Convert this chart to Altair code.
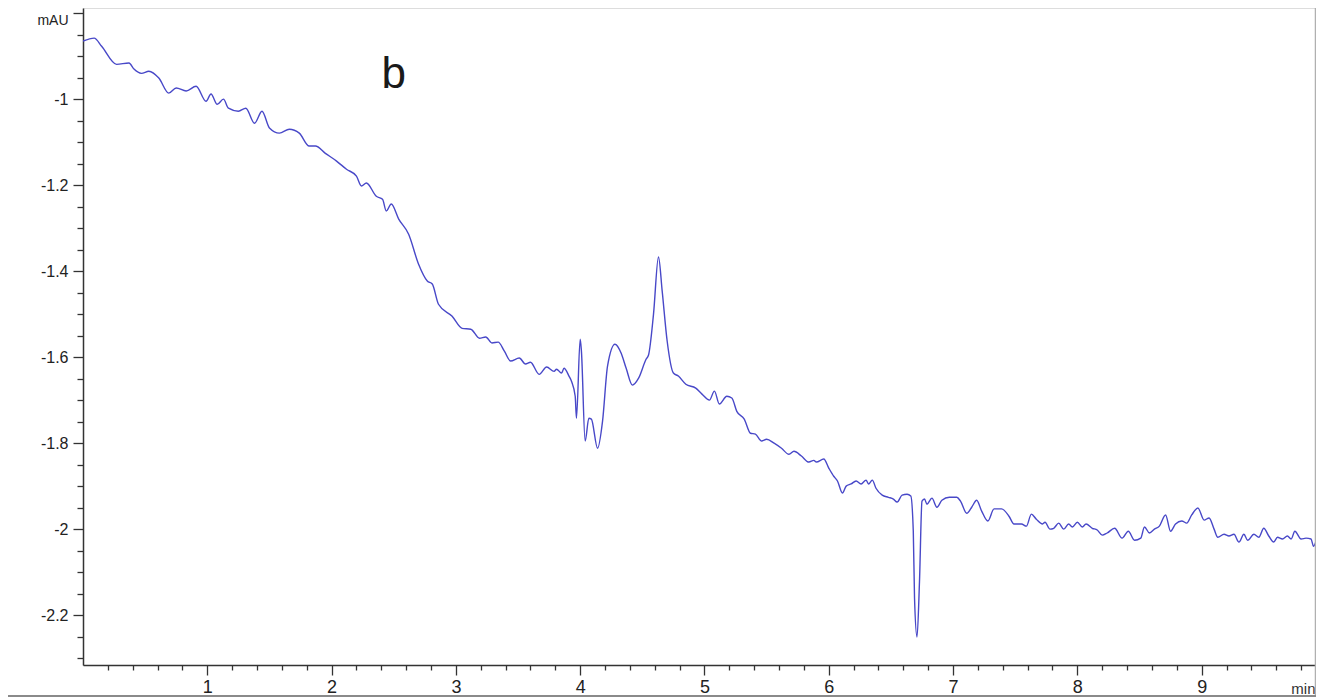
import altair as alt
import pandas as pd

# retention time (min) and absorbance (mAU)
time_min = [
    0.00, 0.09, 0.15, 0.27, 0.37, 0.41, 0.47, 0.53, 0.61, 0.69,
    0.75, 0.83, 0.91, 0.99, 1.03, 1.08, 1.13, 1.17, 1.25, 1.31,
    1.38, 1.44, 1.50, 1.58, 1.66, 1.74, 1.82, 1.87, 1.95, 2.04,
    2.12, 2.20, 2.24, 2.28, 2.36, 2.41, 2.44, 2.48, 2.54, 2.62,
    2.70, 2.77, 2.81, 2.86, 2.97, 3.05, 3.12, 3.19, 3.24, 3.29,
    3.34, 3.39, 3.44, 3.51, 3.56, 3.60, 3.67, 3.73, 3.79, 3.81,
    3.85, 3.87, 3.91, 3.93, 3.96, 3.97, 4.00, 4.01, 4.04, 4.07,
    4.09, 4.14, 4.18, 4.22, 4.28, 4.33, 4.37, 4.42, 4.47, 4.53,
    4.55, 4.59, 4.63, 4.66, 4.70, 4.75, 4.79, 4.85, 4.93, 4.98,
    5.04, 5.08, 5.12, 5.18, 5.22, 5.26, 5.32, 5.37, 5.41, 5.46,
    5.50, 5.56, 5.62, 5.68, 5.72, 5.78, 5.84, 5.88, 5.90, 5.96,
    6.00, 6.04, 6.07, 6.11, 6.14, 6.18, 6.22, 6.26, 6.30, 6.32,
    6.35, 6.38, 6.43, 6.48, 6.52, 6.55, 6.59, 6.63, 6.66, 6.68,
    6.69, 6.71, 6.73, 6.75, 6.77, 6.79, 6.83, 6.87, 6.91, 6.97,
    7.03, 7.06, 7.11, 7.15, 7.19, 7.23, 7.28, 7.33, 7.39, 7.45,
    7.49, 7.55, 7.59, 7.63, 7.67, 7.72, 7.74, 7.78, 7.81, 7.85,
    7.89, 7.93, 7.96, 8.00, 8.04, 8.07, 8.12, 8.16, 8.20, 8.24,
    8.30, 8.36, 8.41, 8.46, 8.51, 8.54, 8.58, 8.62, 8.66, 8.71,
    8.75, 8.79, 8.84, 8.88, 8.92, 8.97, 9.02, 9.06, 9.10, 9.13,
    9.18, 9.22, 9.26, 9.30, 9.34, 9.37, 9.42, 9.46, 9.50, 9.54,
    9.58, 9.61, 9.65, 9.69, 9.72, 9.75, 9.80, 9.84, 9.88, 9.90,
    9.94, 9.98,
]
absorbance = [
    -0.865, -0.858, -0.877, -0.919, -0.916, -0.930, -0.940, -0.935, -0.951, -0.986,
    -0.974, -0.981, -0.970, -1.005, -0.988, -1.012, -1.000, -1.021, -1.028, -1.021,
    -1.056, -1.028, -1.067, -1.079, -1.070, -1.079, -1.109, -1.109, -1.126, -1.144,
    -1.163, -1.179, -1.202, -1.195, -1.226, -1.233, -1.260, -1.244, -1.279, -1.314,
    -1.384, -1.423, -1.430, -1.477, -1.505, -1.533, -1.535, -1.556, -1.553, -1.567,
    -1.565, -1.586, -1.609, -1.602, -1.616, -1.612, -1.640, -1.623, -1.633, -1.628,
    -1.637, -1.626, -1.644, -1.656, -1.691, -1.742, -1.558, -1.586, -1.795, -1.742,
    -1.744, -1.812, -1.749, -1.621, -1.570, -1.591, -1.626, -1.665, -1.649, -1.605,
    -1.595, -1.500, -1.367, -1.447, -1.563, -1.637, -1.644, -1.663, -1.672, -1.686,
    -1.700, -1.679, -1.709, -1.691, -1.695, -1.726, -1.744, -1.777, -1.779, -1.795,
    -1.791, -1.800, -1.812, -1.826, -1.819, -1.830, -1.844, -1.840, -1.844, -1.837,
    -1.858, -1.877, -1.888, -1.916, -1.900, -1.895, -1.888, -1.895, -1.886, -1.895,
    -1.886, -1.905, -1.921, -1.926, -1.930, -1.937, -1.921, -1.919, -1.923, -2.005,
    -2.160, -2.251, -2.121, -1.935, -1.930, -1.942, -1.928, -1.949, -1.933, -1.926,
    -1.926, -1.935, -1.963, -1.949, -1.933, -1.958, -1.981, -1.953, -1.953, -1.970,
    -1.988, -1.988, -1.993, -1.965, -1.977, -1.988, -1.984, -2.000, -1.998, -1.986,
    -2.000, -1.988, -1.995, -1.984, -1.995, -1.988, -1.998, -2.002, -2.014, -2.009,
    -1.998, -2.021, -2.005, -2.026, -2.021, -1.995, -2.009, -2.000, -1.993, -1.967,
    -2.005, -1.988, -1.981, -1.986, -1.967, -1.951, -1.979, -1.974, -2.000, -2.019,
    -2.012, -2.016, -2.012, -2.030, -2.012, -2.026, -2.012, -2.019, -1.998, -2.016,
    -2.030, -2.019, -2.023, -2.016, -2.023, -2.005, -2.023, -2.021, -2.023, -2.040,
    -2.016, -2.028,
]

# axis ticks: every 0.2 min on x, every 0.05 mAU on y
x_ticks = [round(0.2 * i, 1) for i in range(1, 50)]
y_ticks = [round(-2.3 + 0.05 * i, 2) for i in range(31)]

panel_label = ["b"]
label_time = [2.5]
label_abs = [-0.975]

df = pd.DataFrame({"time": time_min, "mAU": absorbance})
ann = pd.DataFrame({"text": panel_label, "time": label_time, "mAU": label_abs})

# plot is 1233 px wide at ~124.3 px per minute
x_scale = alt.Scale(domain=[0, 9.92], nice=False, zero=False)
y_scale = alt.Scale(domain=[-2.316, -0.788], nice=False, zero=False)

x_major = "datum.value % 1 == 0"
y_major = "abs(datum.value * 5 - round(datum.value * 5)) < 0.000001"

x_axis = alt.Axis(
    values=x_ticks,
    tickCount=200,
    grid=False,
    title="min",
    titleX=1232,
    titleY=28,
    titleAlign="right",
    titleBaseline="alphabetic",
    titleFont="Liberation Sans Narrow, Liberation Sans",
    titleFontSize=15,
    titleFontWeight="normal",
    titleColor="#333333",
    labelExpr=x_major + " ? '' + datum.value : ''",
    labelFont="Liberation Sans Narrow, Liberation Sans",
    labelFontSize=18,
    labelColor="#222222",
    labelPadding=3,
    labelFlush=False,
    labelOverlap=False,
    tickSize={"condition": {"test": x_major, "value": 10}, "value": 5},
    tickColor="#333333",
    tickWidth=1.3,
    domainColor="#333333",
    domainWidth=1.5,
)

y_axis = alt.Axis(
    values=y_ticks,
    tickCount=200,
    grid=False,
    title="",
    labelExpr="datum.value == -0.8 ? 'mAU' : (" + y_major + " ? '' + datum.value : '')",
    labelFont="Liberation Sans",
    labelFontSize={"condition": {"test": "datum.value == -0.8", "value": 14}, "value": 16},
    labelBaseline={"condition": {"test": "datum.value == -0.8", "value": "top"}, "value": "middle"},
    labelColor="#222222",
    labelPadding=5,
    labelFlush=False,
    labelOverlap=False,
    tickSize={"condition": {"test": y_major, "value": 10}, "value": 6},
    tickColor="#333333",
    tickWidth=1.3,
    domainColor="#333333",
    domainWidth=1.5,
)

trace = alt.Chart(df).mark_line(
    color="#4848c8", strokeWidth=1.4, interpolate="monotone", clip=True
).encode(
    x=alt.X("time:Q", scale=x_scale, axis=x_axis),
    y=alt.Y("mAU:Q", scale=y_scale, axis=y_axis),
)

label = alt.Chart(ann).mark_text(
    font="Liberation Sans", fontSize=44, color="#1a1a1a",
    align="center", baseline="alphabetic",
).encode(
    x=alt.X("time:Q", scale=x_scale),
    y=alt.Y("mAU:Q", scale=y_scale),
    text="text:N",
)

# grey window frame on the right and bottom edges
frame_right = alt.Chart(ann).mark_rule(color="#b0b0b0", strokeWidth=1.5).encode(
    x=alt.value(1232.5), y=alt.value(-8), y2=alt.value(689)
)
frame_bottom = alt.Chart(ann).mark_rule(color="#8a8a8a", strokeWidth=2).encode(
    x=alt.value(-83), x2=alt.value(1234), y=alt.value(688)
)

chart = (trace + label + frame_right + frame_bottom).properties(
    width=1233,
    height=657,
    autosize=alt.AutoSizeParams(type="none"),
    padding={"left": 75, "top": 0, "right": 0, "bottom": 32},
).configure_view(stroke=None).configure(background="white")

chart.save("out.html", embed_options={"renderer": "svg", "actions": False})
